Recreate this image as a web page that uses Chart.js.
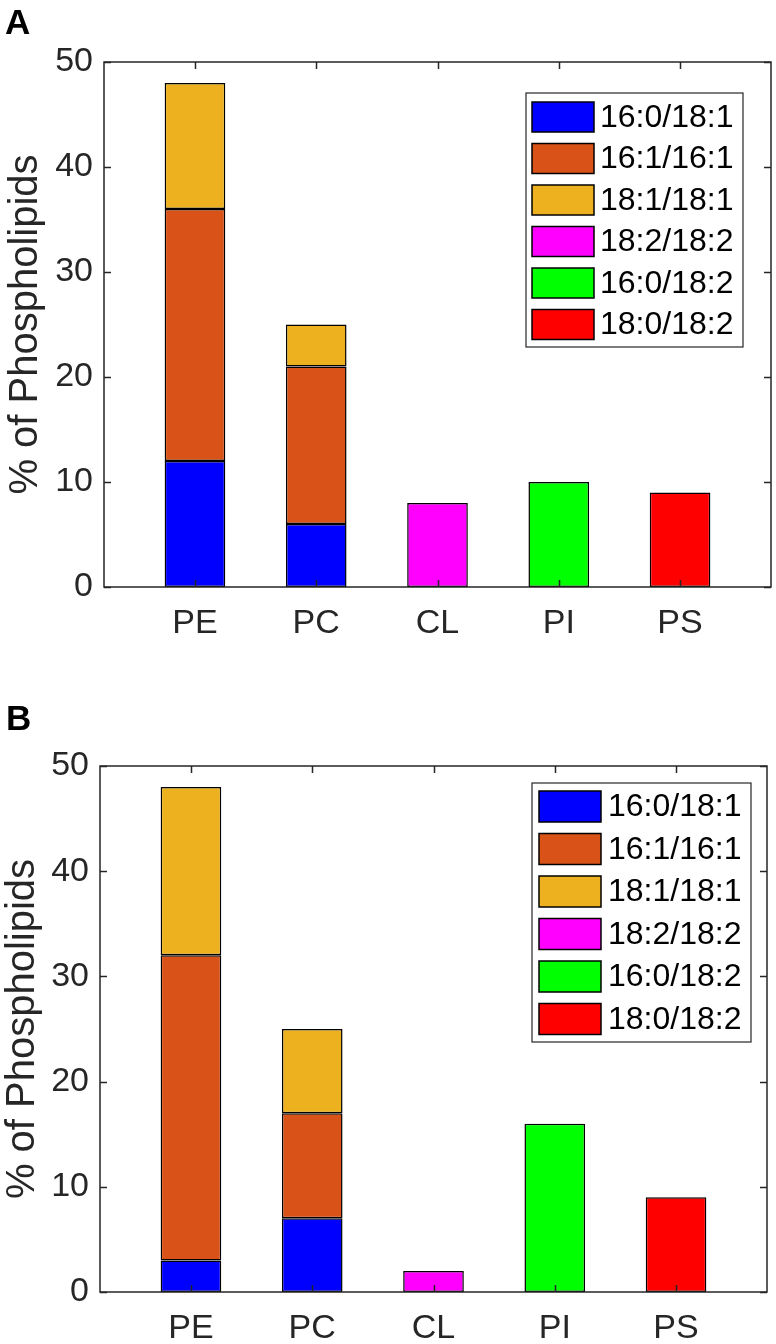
<!DOCTYPE html>
<html><head><meta charset="utf-8">
<script src="https://cdn.jsdelivr.net/npm/chart.js@4.4.0/dist/chart.umd.min.js"></script>
<style>
html,body{margin:0;padding:0;background:#fff;}
#wrap{position:relative;width:776px;height:1344px;overflow:hidden;}
.panel{position:absolute;left:0;width:776px;height:672px;}
.lbl{position:absolute;font:bold 35px "Liberation Sans",Arial,sans-serif;color:#000;line-height:1;}
</style></head><body>
<div id="wrap">
 <div class="panel" style="top:0"><canvas id="cA" width="776" height="672"></canvas></div>
 <div class="panel" style="top:672px"><canvas id="cB" width="776" height="672"></canvas></div>
 <div class="lbl" style="left:5px;top:4px">A</div>
 <div class="lbl" style="left:6px;top:700px">B</div>
</div>
<script>
// ---- data ----
const categories = ['PE', 'PC', 'CL', 'PI', 'PS'];
const seriesNames = ['16:0/18:1', '16:1/16:1', '18:1/18:1', '18:2/18:2', '16:0/18:2', '18:0/18:2'];
const seriesColors = ['#0000ff', '#d95319', '#edb120', '#ff00ff', '#00ff00', '#ff0000'];
const yTicks = [0, 10, 20, 30, 40, 50];
const yTitle = '% of Phospholipids';

// Panel A
const a_16_0_18_1 = [12, 6, 0, 0, 0];
const a_16_1_16_1 = [24, 15, 0, 0, 0];
const a_18_1_18_1 = [12, 4, 0, 0, 0];
const a_18_2_18_2 = [0, 0, 8, 0, 0];
const a_16_0_18_2 = [0, 0, 0, 10, 0];
const a_18_0_18_2 = [0, 0, 0, 0, 9];

// Panel B
const b_16_0_18_1 = [3, 7, 0, 0, 0];
const b_16_1_16_1 = [29, 10, 0, 0, 0];
const b_18_1_18_1 = [16, 8, 0, 0, 0];
const b_18_2_18_2 = [0, 0, 2, 0, 0];
const b_16_0_18_2 = [0, 0, 0, 16, 0];
const b_18_0_18_2 = [0, 0, 0, 0, 9];

const FONT = '"Liberation Sans", Arial, Helvetica, sans-serif';
const TXT = '#262626';

const framePlugin = {
  id: 'frame',
  afterDatasetsDraw(chart) {
    const {ctx, chartArea: a, scales} = chart;
    const tl = 7;
    ctx.save();
    ctx.strokeStyle = TXT;
    ctx.lineWidth = 1.5;
    ctx.beginPath();
    categories.forEach((c, i) => {
      const x = Math.round(scales.x.getPixelForValue(i + 1)) + 0.5;
      ctx.moveTo(x, a.bottom); ctx.lineTo(x, a.bottom - tl);
      ctx.moveTo(x, a.top); ctx.lineTo(x, a.top + tl);
    });
    yTicks.forEach(v => {
      const y = Math.round(scales.y.getPixelForValue(v)) + 0.5;
      ctx.moveTo(a.left, y); ctx.lineTo(a.left + tl, y);
      ctx.moveTo(a.right, y); ctx.lineTo(a.right - tl, y);
    });
    ctx.stroke();
    ctx.strokeRect(a.left, a.top, a.right - a.left, a.bottom - a.top);

    // legend
    const L = chart.options.plugins.frame.legend;
    ctx.fillStyle = '#fff';
    ctx.fillRect(L.x, L.y, L.w, L.h);
    ctx.lineWidth = 1.2;
    ctx.strokeRect(L.x, L.y, L.w, L.h);
    ctx.font = '32px ' + FONT;
    ctx.textBaseline = 'middle';
    ctx.textAlign = 'left';
    chart.data.datasets.forEach((ds, i) => {
      const sy = L.firstY + i * L.rowH;
      ctx.fillStyle = ds.backgroundColor;
      ctx.fillRect(L.swX, sy, L.swW, L.swH);
      ctx.strokeStyle = '#000';
      ctx.lineWidth = 1.5;
      ctx.strokeRect(L.swX, sy, L.swW, L.swH);
      ctx.fillStyle = '#000';
      ctx.fillText(ds.label, L.textX, sy + L.swH / 2 + 1);
    });
    ctx.restore();
  }
};

function makeChart(id, seriesData, geom) {
  const datasets = seriesNames.map((name, s) => ({
    label: name,
    data: categories.map((c, i) => ({x: i + 1, y: seriesData[s][i] === 0 ? null : seriesData[s][i]})),
    backgroundColor: seriesColors[s],
    borderColor: '#000',
    borderWidth: 1.5,
    borderSkipped: false,
    categoryPercentage: 1,
    barPercentage: 0.5
  }));
  return new Chart(document.getElementById(id), {
    type: 'bar',
    data: {datasets},
    plugins: [framePlugin],
    options: {
      responsive: false,
      animation: false,
      layout: {padding: {left: 0, top: geom.top, right: geom.right, bottom: 0}},
      plugins: {
        legend: {display: false},
        tooltip: {enabled: false},
        frame: {legend: geom.legend}
      },
      scales: {
        x: {
          type: 'linear', min: 0.25, max: 5.75, stacked: true, offset: false,
          afterBuildTicks: s => { s.ticks = categories.map((c, i) => ({value: i + 1})); },
          ticks: {callback: v => categories[v - 1] || '', font: {family: FONT, size: 34}, color: TXT,
                  padding: geom.xpad, autoSkip: false, maxRotation: 0},
          grid: {display: false, drawTicks: false, offset: false},
          border: {display: false},
          afterFit: s => { s.height = geom.xh; }
        },
        y: {
          min: 0, max: 50, stacked: true,
          afterBuildTicks: s => { s.ticks = yTicks.map(v => ({value: v})); },
          ticks: {font: {family: FONT, size: 34}, color: TXT, padding: 11},
          title: {display: true, text: yTitle, font: {family: FONT, size: 40, lineHeight: 1.1}, color: TXT,
                  padding: {top: geom.tpad, bottom: 0}},
          grid: {display: false, drawTicks: false},
          border: {display: false},
          afterFit: s => { s.width = geom.yw; }
        }
      }
    }
  });
}

makeChart('cA', [a_16_0_18_1, a_16_1_16_1, a_18_1_18_1, a_18_2_18_2, a_16_0_18_2, a_18_0_18_2], {
  top: 62, right: 5, xh: 85, yw: 104, xpad: 16, tpad: 4,
  legend: {x: 526, y: 93, w: 217, h: 254, firstY: 102, rowH: 41.5, swX: 532, swW: 62, swH: 30, textX: 600}
});
makeChart('cB', [b_16_0_18_1, b_16_1_16_1, b_18_1_18_1, b_18_2_18_2, b_16_0_18_2, b_18_0_18_2], {
  top: 94, right: 9, xh: 52, yw: 100, xpad: 16, tpad: 1,
  legend: {x: 532, y: 111, w: 219, h: 259, firstY: 119, rowH: 42.5, swX: 539, swW: 62, swH: 31, textX: 608}
});
</script>
</body></html>
